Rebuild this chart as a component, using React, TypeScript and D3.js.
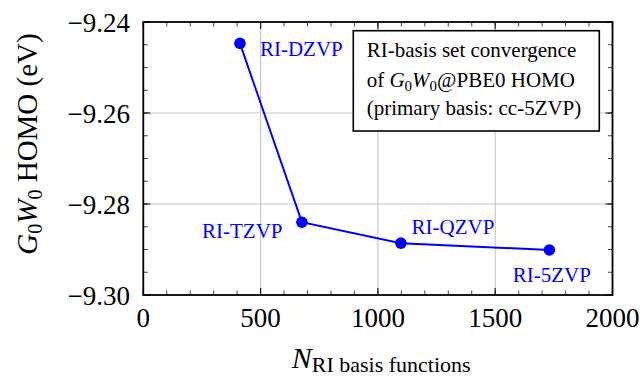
import React from "react";
import * as d3 from "d3";

// ---- data ----
const basisNames = ["RI-DZVP", "RI-TZVP", "RI-QZVP", "RI-5ZVP"];
const nBasis = [412, 676, 1098, 1731];
const homo = [-9.2447, -9.284, -9.2886, -9.2901];
const xTicks = [0, 500, 1000, 1500, 2000];
const yTicks = [-9.3, -9.28, -9.26, -9.24];
const legendLines = ["RI-basis set convergence", "of G0W0@PBE0 HOMO", "(primary basis: cc-5ZVP)"];

// label placement (style)
const labelPlacement = [
  { anchor: "start", dx: 20, dy: 12.7 },
  { anchor: "end", dx: -19.4, dy: 16 },
  { anchor: "start", dx: 10.7, dy: -9.3 },
  { anchor: "middle", dx: 2.4, dy: 31.7 },
];

const W = 644;
const H = 376;
const M = { left: 143.3, right: 612.5, top: 22, bottom: 295 };
const FONT = "'Liberation Serif', 'Times New Roman', serif";
const BLUE = "#0000ff";

export default function App() {
  const x = d3.scaleLinear().domain([0, 2000]).range([M.left, M.right]);
  const y = d3.scaleLinear().domain([-9.3, -9.24]).range([M.bottom, M.top]);
  const xMinor = d3.range(0, 2001, 100);
  const yMinor = d3.range(0, 13).map((i) => -9.3 + i * 0.005);
  const pts = nBasis.map((n, i) => [x(n), y(homo[i])] as [number, number]);
  const line = d3.line()(pts) || "";
  const fmtY = (v: number) => "\u2212" + Math.abs(v).toFixed(2);

  return (
    <svg width={W} height={H} style={{ position: "absolute", left: 0, top: 0, background: "#fff" }} fontFamily={FONT}>
      <rect x={0} y={0} width={W} height={H} fill="#fff" />
      {/* grid */}
      {xTicks.slice(1, -1).map((t) => (
        <line key={"gx" + t} x1={x(t)} x2={x(t)} y1={M.top} y2={M.bottom} stroke="#c8c8c8" strokeWidth={1.2} />
      ))}
      {yTicks.slice(1, -1).map((t) => (
        <line key={"gy" + t} y1={y(t)} y2={y(t)} x1={M.left} x2={M.right} stroke="#c8c8c8" strokeWidth={1.2} />
      ))}
      {/* minor ticks */}
      {xMinor.map((t) => (
        <g key={"mx" + t} stroke="#444" strokeWidth={1}>
          <line x1={x(t)} x2={x(t)} y1={M.bottom} y2={M.bottom - 4.5} />
          <line x1={x(t)} x2={x(t)} y1={M.top} y2={M.top + 4.5} />
        </g>
      ))}
      {yMinor.map((t, i) => (
        <g key={"my" + i} stroke="#444" strokeWidth={1}>
          <line y1={y(t)} y2={y(t)} x1={M.left} x2={M.left + 4.5} />
          <line y1={y(t)} y2={y(t)} x1={M.right} x2={M.right - 4.5} />
        </g>
      ))}
      {/* major ticks */}
      {xTicks.map((t) => (
        <g key={"Mx" + t} stroke="#222" strokeWidth={1.2}>
          <line x1={x(t)} x2={x(t)} y1={M.bottom} y2={M.bottom - 7} />
          <line x1={x(t)} x2={x(t)} y1={M.top} y2={M.top + 7} />
        </g>
      ))}
      {yTicks.map((t) => (
        <g key={"My" + t} stroke="#222" strokeWidth={1.2}>
          <line y1={y(t)} y2={y(t)} x1={M.left} x2={M.left + 7} />
          <line y1={y(t)} y2={y(t)} x1={M.right} x2={M.right - 7} />
        </g>
      ))}
      {/* legend box */}
      <rect x={353.3} y={30.7} width={246} height={100.3} fill="#fff" stroke="#000" strokeWidth={1.6} />
      <text x={366.7} y={56.7} fontSize={21} fill="#000">{legendLines[0]}</text>
      <text x={366.7} y={86.7} fontSize={21} fill="#000">
        <tspan>of </tspan>
        <tspan fontStyle="italic">G</tspan>
        <tspan fontSize={15} dy={4}>0</tspan>
        <tspan fontStyle="italic" dy={-4}>W</tspan>
        <tspan fontSize={15} dy={4}>0</tspan>
        <tspan dy={-4}>@PBE0 HOMO</tspan>
      </text>
      <text x={366.7} y={115} fontSize={21} fill="#000">{legendLines[2]}</text>
      {/* frame */}
      <rect x={M.left} y={M.top} width={M.right - M.left} height={M.bottom - M.top} fill="none" stroke="#000" strokeWidth={1.8} />
      {/* data */}
      <path d={line} fill="none" stroke={BLUE} strokeWidth={2} />
      {pts.map((p, i) => (
        <circle key={"p" + i} cx={p[0]} cy={p[1]} r={5.8} fill={BLUE} />
      ))}
      {pts.map((p, i) => (
        <text
          key={"l" + i}
          x={p[0] + labelPlacement[i].dx}
          y={p[1] + labelPlacement[i].dy}
          textAnchor={labelPlacement[i].anchor as any}
          fontSize={21}
          fill={BLUE}
        >
          {basisNames[i]}
        </text>
      ))}
      {/* tick labels */}
      {xTicks.map((t) => (
        <text key={"tx" + t} x={x(t)} y={326.7} textAnchor="middle" fontSize={27} fill="#000">
          {t}
        </text>
      ))}
      {yTicks.map((t) => (
        <text key={"ty" + t} x={130} y={y(t) + 9.7} textAnchor="end" fontSize={27} fill="#000">
          {fmtY(t)}
        </text>
      ))}
      {/* axis labels */}
      <text x={291.7} y={368.3} fontSize={30} fill="#000">
        <tspan fontStyle="italic">N</tspan>
        <tspan fontSize={22} dy={3.4}>RI basis functions</tspan>
      </text>
      <text transform="translate(37,144) rotate(-90)" textAnchor="middle" fontSize={29} fill="#000">
        <tspan fontStyle="italic">G</tspan>
        <tspan fontSize={20} dy={5}>0</tspan>
        <tspan fontStyle="italic" dy={-5}>W</tspan>
        <tspan fontSize={20} dy={5}>0</tspan>
        <tspan dy={-5}> HOMO (eV)</tspan>
      </text>
    </svg>
  );
}
